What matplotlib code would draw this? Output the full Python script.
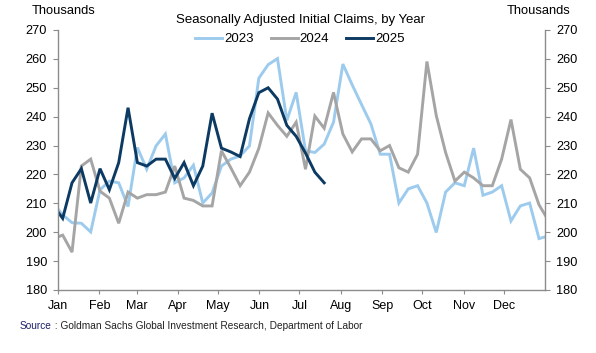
import numpy as np
import matplotlib
matplotlib.use("Agg")
import matplotlib.pyplot as plt

plt.rcParams["font.family"] = ["Liberation Sans", "DejaVu Sans"]

# weekly initial claims (thousands); first and last value sit just outside the
# Jan 1 - Dec 31 window so the lines run into the spines
claims_2023 = [210, 206, 203.3, 203.1, 200.1, 214.7, 217.7, 217.1, 208.9, 229.3,
               221.8, 229.9, 234.0, 217.1, 218.8, 223.2, 210.1, 213.6, 222.9, 225.3,
               226.4, 229.9, 253.3, 258.0, 260.1, 238.7, 248.4, 228.2, 227.6, 230.5,
               238.1, 258.2, 251.0, 244.2, 237.5, 227.0, 227.0, 210.1, 215.0, 216.1,
               210.1, 199.9, 213.9, 217.1, 216.1, 229.1, 212.8, 213.9, 216.1, 203.9,
               209.1, 210.1, 197.8, 198.7]
claims_2024 = [197.8, 199.0, 193.1, 222.9, 225.3, 214.2, 211.8, 203.1, 213.9, 211.8,
               213.0, 213.0, 213.9, 222.9, 211.8, 211.0, 209.1, 209.1, 228.2, 222.3,
               216.1, 220.8, 229.0, 241.3, 237.0, 233.2, 238.1, 221.8, 240.2, 236.0,
               248.4, 234.0, 227.8, 232.3, 232.3, 228.2, 230.0, 222.3, 220.8, 227.0,
               259.1, 240.4, 227.6, 217.7, 220.8, 218.8, 216.1, 216.1, 225.3, 239.0,
               221.8, 218.8, 209.5, 204.1]
claims_2025 = [209.2, 204.8, 217.1, 222.0, 210.1, 222.0, 214.7, 224.1, 243.1, 224.1,
               222.9, 225.3, 225.3, 218.6, 224.1, 216.1, 222.9, 241.2, 229.1, 227.8,
               226.2, 239.3, 248.3, 250.0, 246.1, 237.0, 233.2, 227.4, 220.8, 217.1]

months = ["Jan", "Feb", "Mar", "Apr", "May", "Jun", "Jul", "Aug", "Sep", "Oct", "Nov", "Dec"]
month_start_day = [0, 31, 59, 90, 120, 151, 181, 212, 243, 273, 304, 334]
y_ticks = list(range(180, 271, 10))

colors = {"2023": "#9dcbee", "2024": "#a5a5a5", "2025": "#0c3a62"}


def week_days(n):
    # week-ending dates as day-of-year, first one falls just before Jan 1
    return -3.5 + 7 * np.arange(n)


fig = plt.figure(figsize=(5.96, 3.53), dpi=100)
ax = fig.add_axes([58 / 596, 1 - 290 / 353, 487 / 596, 260 / 353])

for label, vals in (("2023", claims_2023), ("2024", claims_2024), ("2025", claims_2025)):
    ax.plot(week_days(len(vals)), vals, color=colors[label], lw=2.1, label=label,
            solid_joinstyle="miter")

ax.set_xlim(0, 365)
ax.set_ylim(180, 270)
ax.set_xticks(month_start_day)
ax.set_xticklabels(months)
ax.set_yticks(y_ticks)

for side in ("left", "right", "bottom"):
    ax.spines[side].set_color("#8c8c8c")
    ax.spines[side].set_linewidth(1.0)
ax.spines["top"].set_visible(False)

ax.yaxis.set_ticks_position("both")
ax.tick_params(axis="y", direction="out", length=3.6, color="#8c8c8c",
               labelsize=9.2, labelright=True, pad=4.3)
ax.tick_params(axis="x", direction="out", length=3, color="#8c8c8c",
               labelsize=9, pad=4)

fig.text(63.5 / 596, 1 - 11 / 353, "Thousands", fontsize=9.3, ha="center", va="center")
fig.text(539 / 596, 1 - 11 / 353, "Thousands", fontsize=9.3, ha="center", va="center")
fig.text(301 / 596, 1 - 20 / 353, "Seasonally Adjusted Initial Claims, by Year",
         fontsize=9.5, ha="center", va="center")

ax.legend(loc="upper center", bbox_to_anchor=(300 / 596, 1 - 33 / 353), ncol=3,
          frameon=False, fontsize=9.5, handlelength=2.05, handletextpad=0.15,
          columnspacing=1.3, borderaxespad=0, borderpad=0,
          bbox_transform=fig.transFigure)

src = fig.text(20 / 596, 1 - 326 / 353, "Source", fontsize=7.3, color="#1f1f6b",
               ha="left", va="center")
fig.canvas.draw()
ax.annotate(" : Goldman Sachs Global Investment Research, Department of Labor",
            xy=(1, 0.5), xycoords=src, ha="left", va="center",
            fontsize=7.3, color="#222222", annotation_clip=False)

fig.savefig("out.png", dpi=100)
